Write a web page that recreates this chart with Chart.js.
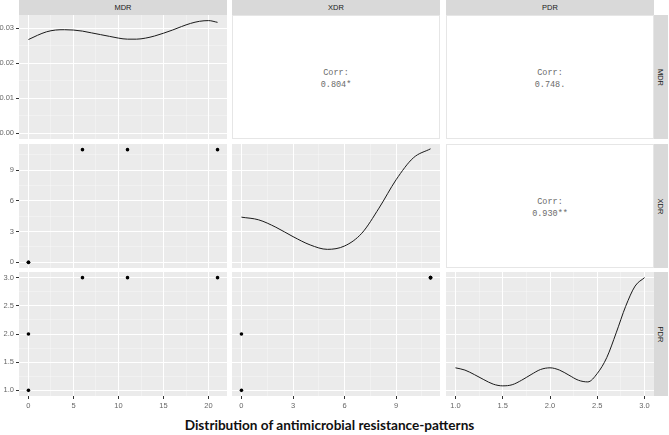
<!DOCTYPE html>
<html>
<head>
<meta charset="utf-8">
<script src="https://cdn.jsdelivr.net/npm/chart.js@4.4.1/dist/chart.umd.min.js"></script>
<style>
body{margin:0;width:669px;height:435px;position:relative;background:#fff;overflow:hidden;font-family:"Liberation Sans",Arial,sans-serif}
canvas{position:absolute}
.strip{position:absolute;background:#d9d9d9;color:#1a1a1a;font-size:7.5px;display:flex;align-items:center;justify-content:center}
.strip.r span{transform:rotate(90deg);white-space:nowrap}
.upper{position:absolute;background:#fff;border:1px solid #e6e6e6;box-sizing:border-box;padding-top:3px;font-family:"Liberation Mono",monospace;color:#6b6b6b;font-size:8.5px;text-align:center;display:flex;flex-direction:column;justify-content:center;line-height:12px}
#title{position:absolute;left:0;width:659px;top:417px;text-align:center;font:bold 13.6px Lato;color:#111;white-space:nowrap}
</style>
</head>
<body>
<div id="title">Distribution of antimicrobial resistance-patterns</div>
<script>
// observations
const mdr = [0, 0, 6, 11, 21]
const xdr = [0, 0, 11, 11, 11]
const pdr = [1, 2, 3, 3, 3]
const varNames = ['MDR', 'XDR', 'PDR']
const corrLabels = ['0.804*', '0.748.', '0.930**']  // MDR-XDR, MDR-PDR, XDR-PDR

// density curves (y in the row's axis units)
const mdrDensX = [0,1,2,3,4,5,6,7,8,9,10,11,12,13,14,15,16,17,18,19,20,21]
const mdrDensY = [0.0268,0.0280,0.0290,0.0295,0.0296,0.0295,0.0292,0.0287,0.0282,0.0277,0.0272,0.0269,0.0269,0.0272,0.0278,0.0286,0.0295,0.0305,0.0314,0.0320,0.0322,0.0317]
const xdrDensX = [0,1,2,3,4,5,6,7,8,9,10,11]
const xdrDensY = [4.41,4.15,3.43,2.51,1.70,1.27,1.60,2.84,5.29,8.07,10.2,11.08]
const pdrDensX = [1.0,1.1,1.2,1.3,1.4,1.5,1.6,1.7,1.8,1.9,2.0,2.1,2.2,2.3,2.4,2.5,2.6,2.7,2.8,2.9,3.0]
const pdrDensY = [1.40,1.36,1.28,1.19,1.11,1.08,1.10,1.18,1.28,1.37,1.40,1.36,1.27,1.18,1.15,1.30,1.58,2.02,2.49,2.85,3.00]

// axis breaks
const mdrTicks = [0, 5, 10, 15, 20]
const xdrTicks = [0, 3, 6, 9]
const pdrTicks = [1.0, 1.5, 2.0, 2.5, 3.0]
const densTicks = [0.00, 0.01, 0.02, 0.03]

// layout
const colLeft = [19, 232, 446], colW = 208
const rowTop = [15, 144, 272], rowH = 124
const leftM = 19, bottomM = 16

const axes = {
  x: [
    {min: -1.05, max: 22.05, major: mdrTicks, step: 2.5, dec: 0},
    {min: -0.55, max: 11.55, major: xdrTicks, step: 1.5, dec: 0},
    {min: 0.9, max: 3.1, major: pdrTicks, step: 0.25, dec: 1}
  ],
  y: [
    {min: -0.0016, max: 0.0338, major: densTicks, step: 0.005, dec: 2},
    {min: -0.55, max: 11.55, major: xdrTicks, step: 1.5, dec: 0},
    {min: 0.9, max: 3.1, major: pdrTicks, step: 0.25, dec: 1}
  ]
}
const cols = [mdr, xdr, pdr]

const isMajor = (a, v) => a.major.some(m => Math.abs(m - v) < 1e-9)

const makeScale = (a, show, size, horiz) => {
  return {
    type: 'linear',
    min: a.min,
    max: a.max,
    afterBuildTicks: sc => {
      const t = []
      const start = Math.ceil((a.min - 1e-9) / a.step)
      for (let k = start; k * a.step <= a.max + 1e-9; k++) t.push({value: +(k * a.step).toFixed(6)})
      sc.ticks = t
    },
    afterFit: sc => {
      if (horiz) sc.height = size; else sc.width = size
      sc.paddingLeft = 0; sc.paddingRight = 0; sc.paddingTop = 0; sc.paddingBottom = 0
    },
    border: {display: false},
    grid: {
      color: c => isMajor(a, c.tick.value) ? '#ffffff' : 'rgba(255,255,255,0.55)',
      lineWidth: c => isMajor(a, c.tick.value) ? 1 : 0.6,
      drawTicks: show,
      tickLength: 3,
      tickColor: c => isMajor(a, c.tick.value) ? '#333333' : 'rgba(0,0,0,0)',
      tickWidth: 1
    },
    ticks: {
      display: show,
      autoSkip: false,
      maxRotation: 0,
      padding: 2,
      color: '#666666',
      font: {family: 'Liberation Sans', size: 7.5},
      callback: v => isMajor(a, v) ? v.toFixed(a.dec) : ''
    }
  }
}

const panelBg = {
  id: 'panelBg',
  beforeDraw: ch => {
    const {ctx, chartArea: c} = ch
    ctx.save()
    ctx.fillStyle = '#ebebeb'
    ctx.fillRect(c.left, c.top, c.right - c.left, c.bottom - c.top)
    ctx.restore()
  }
}

const addCanvas = (i, j) => {
  const cv = document.createElement('canvas')
  const l = j === 0 ? leftM : 0
  const b = i === 2 ? bottomM : 0
  const w = colW + l, h = rowH + b
  cv.width = w; cv.height = h
  cv.style.left = (colLeft[j] - l) + 'px'
  cv.style.top = rowTop[i] + 'px'
  cv.style.width = w + 'px'; cv.style.height = h + 'px'
  document.body.appendChild(cv)
  return {cv, l, b}
}

for (let i = 0; i < 3; i++) {
  for (let j = 0; j < 3; j++) {
    if (j > i) {
      // correlation panels
      const d = document.createElement('div')
      d.className = 'upper'
      d.style.left = colLeft[j] + 'px'; d.style.top = rowTop[i] + 'px'
      d.style.width = colW + 'px'; d.style.height = rowH + 'px'
      const idx = i === 0 ? (j === 1 ? 0 : 1) : 2
      d.innerHTML = '<div>Corr:</div><div>' + corrLabels[idx] + '</div>'
      document.body.appendChild(d)
      continue
    }
    const {cv, l, b} = addCanvas(i, j)
    let dataset
    if (i === j) {
      const dx = [mdrDensX, xdrDensX, pdrDensX][i]
      const dy = [mdrDensY, xdrDensY, pdrDensY][i]
      dataset = {
        data: dx.map((x, k) => ({x: x, y: dy[k]})),
        showLine: true, borderColor: '#1a1a1a', borderWidth: 1,
        pointRadius: 0, cubicInterpolationMode: 'monotone', fill: false
      }
    } else {
      dataset = {
        data: cols[j].map((x, k) => ({x: x, y: cols[i][k]})),
        showLine: false, pointRadius: 1.8, pointBackgroundColor: '#000',
        pointBorderWidth: 0
      }
    }
    new Chart(cv, {
      type: 'scatter',
      data: {datasets: [dataset]},
      options: {
        responsive: false,
        animation: false,
        layout: {padding: 0, autoPadding: false},
        plugins: {legend: {display: false}, tooltip: {enabled: false}},
        scales: {
          x: makeScale(axes.x[j], i === 2, b, true),
          y: makeScale(axes.y[i], j === 0, l, false)
        }
      },
      plugins: [panelBg]
    })
  }
}

// facet strips
varNames.forEach((n, k) => {
  const t = document.createElement('div')
  t.className = 'strip'
  t.style.left = colLeft[k] + 'px'; t.style.top = '0px'
  t.style.width = colW + 'px'; t.style.height = '15px'
  t.textContent = n
  document.body.appendChild(t)
  const r = document.createElement('div')
  r.className = 'strip r'
  r.style.left = (colLeft[2] + colW) + 'px'; r.style.top = rowTop[k] + 'px'
  r.style.width = '14px'; r.style.height = rowH + 'px'
  r.innerHTML = '<span>' + n + '</span>'
  document.body.appendChild(r)
})
</script>
</body>
</html>
